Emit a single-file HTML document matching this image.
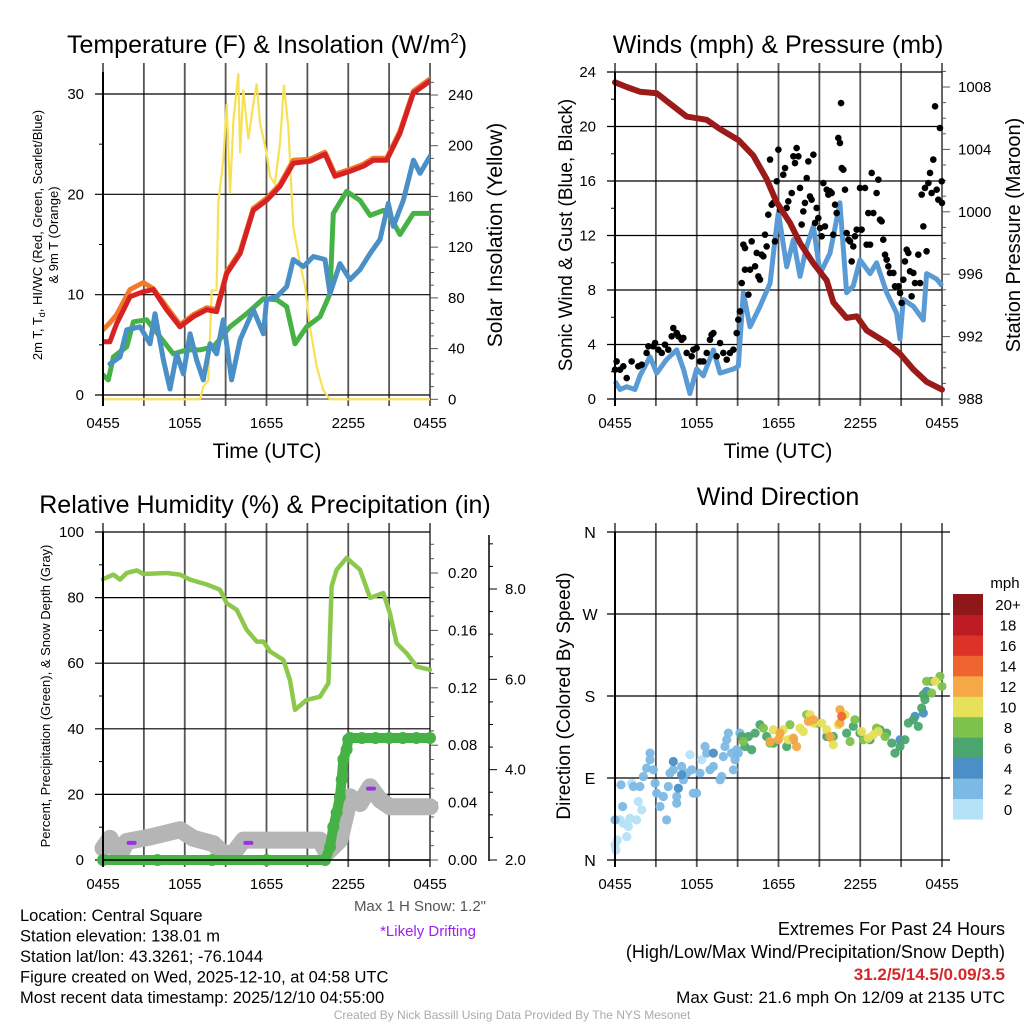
<!DOCTYPE html>
<html><head><meta charset="utf-8">
<style>
body{margin:0;background:#fff;}
svg{display:block;font-family:"Liberation Sans",sans-serif;}
</style></head>
<body>
<svg id="s" width="1024" height="1024" viewBox="0 0 1024 1024"></svg>
<script>
// ---------- DATA ----------
const xTickLabels=["0455","1055","1655","2255","0455"];
// Temperature panel
const tRedTimes=[0,0.51,1.0,1.98,2.96,3.69,4.67,5.65,6.63,7.61,8.34,9.08,10.06,11.03,12.01,12.99,13.97,15.19,16.29,17.03,18.13,19.11,19.84,20.82,21.8,22.78,24];
const tRedVals=[5.3,5.3,7.1,9.8,10.3,10.5,8.5,6.8,7.8,8.5,8.3,12.1,14.1,18.4,19.4,20.8,23.1,23.3,24,21.8,22.3,22.8,23.4,23.4,26.1,30.1,31.3];
const tOrangeVals=[6.5,7.2,8.0,10.5,11.2,10.6,8.8,7.0,8.0,8.7,8.5,12.3,14.3,18.6,19.6,21,23.4,23.5,24.2,22,22.5,23,23.6,23.6,26.3,30.3,31.5];
const tGreenTimes=[0,0.39,0.76,1.74,2.23,3.2,4.18,5.16,6.14,7.12,8.1,9.32,10.54,11.77,12.75,13.48,14.09,14.95,15.93,16.66,16.9,17.88,18.86,19.6,20.57,21.06,21.8,22.78,24];
const tGreenVals=[2,1.5,3.8,4.8,7.3,7.5,5.8,4.1,4.5,4.5,4.8,6.8,8.1,9.6,9.5,8.8,5.1,6.8,7.8,10.1,18.1,20.3,19.4,17.9,18.4,17.8,16,18.1,18.1];
const tBlueTimes=[0.51,1.25,1.74,2.72,3.45,3.82,4.43,4.92,5.41,5.9,6.39,6.87,7.36,7.85,8.34,8.83,9.44,10.06,11.03,11.77,12.01,12.75,13.48,13.97,14.7,15.44,16.29,16.66,17.39,18.13,18.86,19.6,20.33,20.94,21.31,22.04,22.78,23.27,24];
const tBlueVals=[3.1,3.8,6.5,6.8,5.1,8.1,3.5,0.6,4.1,2.1,6.1,3.5,1.5,5.1,4.1,7.5,1.5,5.5,8.5,6.1,9.5,9.8,10.8,13.5,12.8,13.8,13.5,10.1,13.1,11.5,12.5,14.1,15.5,19.1,16.8,19.4,23.4,22.1,23.8];
const solTimes=[0,7.12,7.36,7.73,7.98,8.34,8.46,8.83,9.08,9.32,9.57,9.93,10.06,10.3,10.67,11.03,11.28,11.52,12.01,12.26,12.62,12.99,13.28,13.6,13.97,14.46,14.83,15.19,15.68,16.17,16.66,24];
const solVals=[0,0,10,15,86,86,155,189,233,162,220,257,194,244,205,233,249,218,194,176,170,202,248,215,136,107,89,57,26,7,0,0];
// Wind panel
const windTimes=[0,0.37,0.86,1.47,1.83,2.57,3.06,3.79,4.53,5.02,5.5,5.99,6.48,7.22,7.71,8.69,9.05,9.42,9.91,10.64,11.38,11.74,11.99,12.6,13.09,13.58,14.07,14.56,15.05,15.78,16.51,17.0,17.49,17.98,18.72,19.2,19.94,20.67,20.92,21.16,21.9,22.63,22.87,23.61,24];
const windVals=[1.3,0.7,0.9,0.7,1.7,3.1,1.9,2.9,3.6,2.2,0.4,2.2,1.7,3.6,1.9,2.2,2.4,7.8,5.3,6.8,8.5,11.7,13.7,9.7,11.7,9.0,11.2,12.7,9.2,10.7,14.4,7.8,8.3,10.2,9.2,10,7.8,6.3,4.4,7.3,6.8,5.8,9.2,8.8,8.3];
const gustTimes=[0,0.12,0.37,0.61,0.86,1.22,1.71,1.96,2.32,2.45,2.81,2.94,3.18,3.43,3.67,3.91,4.16,4.28,4.53,4.65,4.89,5.02,5.26,5.63,5.75,5.99,6.24,6.48,6.73,6.97,7.09,7.22,7.46,7.71,7.95,8.2,8.44,8.69,8.93,9.05,9.17,9.3,9.42,9.54,9.54,9.79,9.91,10.03,10.28,10.4,10.52,10.64,10.76,10.89,11.01,11.13,11.25,11.38,11.5,11.62,11.74,11.87,11.99,12.11,12.35,12.48,12.6,12.72,12.97,13.09,13.21,13.33,13.46,13.58,13.7,13.82,13.94,14.07,14.19,14.31,14.43,14.56,14.68,14.8,14.92,15.05,15.17,15.29,15.41,15.54,15.66,15.78,15.9,16.02,16.15,16.27,16.39,16.51,16.59,16.64,16.76,16.88,17.0,17.13,17.25,17.37,17.49,17.61,17.74,17.98,18.1,18.35,18.47,18.59,18.72,18.84,18.96,19.2,19.33,19.45,19.57,19.69,19.82,19.94,20.06,20.18,20.43,20.55,20.8,20.92,21.04,21.16,21.28,21.41,21.53,21.65,21.77,21.9,22.02,22.26,22.39,22.51,22.63,22.75,22.87,23.0,23.12,23.24,23.36,23.49,23.61,23.73,23.85,23.98,24.0];
const gustVals=[2.15,2.76,2.15,2.4,1.54,2.76,2.4,2.52,3.38,3.87,3.87,4.11,3.62,3.38,3.99,3.62,4.6,5.21,4.84,4.6,4.35,4.48,3.38,3.13,3.62,3.74,2.76,2.76,3.38,4.35,4.72,4.84,3.13,4.11,3.38,2.89,3.38,3.62,4.84,5.82,6.43,8.51,11.33,11.08,9.49,7.66,9.49,11.57,9.74,10.72,9.0,8.76,10.59,10.47,12.06,11.2,13.53,17.57,14.26,14.39,11.57,15.98,18.3,13.9,16.46,16.95,14.02,14.51,15.12,17.81,17.32,18.42,17.81,15.49,12.8,13.77,14.39,16.22,17.44,14.87,14.63,17.93,12.92,14.02,13.28,12.55,11.94,15.85,12.67,15.36,15.0,15.24,15.12,12.06,14.26,13.65,19.16,18.79,21.72,16.95,16.83,15.36,12.18,11.69,11.57,10.1,11.2,11.94,12.43,15.49,12.43,15.49,11.33,13.65,11.33,16.59,13.65,15.12,16.1,13.16,13.04,11.69,10.59,10.23,9.74,9.25,9.25,8.27,8.27,7.78,7.05,8.76,10.1,10.96,10.72,9.37,7.54,9.25,8.51,10.59,8.51,15.0,12.67,15.49,10.84,15.85,16.59,15.12,17.57,21.48,15.36,14.63,19.89,15.98,14.39];
const presTimes=[0,0.86,1.83,3.06,3.79,5.26,6.73,7.71,9.05,10.15,11.13,11.87,12.84,13.58,14.56,15.54,16.02,17.0,17.74,18.47,19.94,20.92,21.9,22.87,24];
const presVals=[1008.3,1008,1007.7,1007.6,1007.1,1006.1,1005.9,1005.3,1004.6,1003.6,1002.1,1000.6,999.3,998,996.7,995.6,994.2,993.2,993.3,992.4,991.6,990.9,989.9,989.1,988.6];
// RH panel
const rhTimes=[0,0.76,1.25,1.74,2.47,2.96,4.67,5.65,6.39,7.61,8.59,9.08,9.81,10.54,11.28,11.77,12.26,13.24,13.72,14.09,14.95,15.93,16.54,16.78,17.15,17.88,18.86,19.6,20.57,21.06,21.55,22.29,23.02,24];
const rhVals=[85.6,87,85.5,87.5,88.3,87.2,87.5,87,85.5,84,82.4,78.3,76.3,70.2,66.6,66.6,63.6,61,54.9,45.8,48.8,49.8,53.9,83.4,88.5,92.1,88.5,79.9,81.4,75.3,66.1,63,59,58];
const precipTimes=[0,4,8,12,16.3,16.66,16.9,17.15,17.39,17.52,17.64,17.88,18.0,18.13,19,20,21,22,23,24];
const precipVals=[0,0,0,0,0,0.009,0.023,0.033,0.044,0.056,0.07,0.077,0.084,0.085,0.085,0.085,0.085,0.085,0.085,0.085];
const snowTimes=[0,0.51,1.25,1.74,3.45,5.65,6.63,8.1,8.83,9.57,10.3,12.01,15.93,16.42,17.39,18.13,18.86,19.6,20.33,21.06,24];
const snowVals=[2.26,2.48,2.11,2.41,2.51,2.67,2.48,2.36,2.15,2.15,2.44,2.44,2.44,2.15,2.44,3.4,3.25,3.62,3.33,3.18,3.18];
const driftTimes=[2.1,10.67,19.67];
const driftVals=[2.38,2.38,3.58];
// Direction panel
const dirTimes=[0,0.17,0.37,0.61,0.86,0.98,1.22,1.59,1.71,1.96,6.36,5.5,0.07,1.1,
0.44,0,0.56,1.35,1.83,2.08,2.32,2.57,2.57,2.81,2.94,3.06,3.3,3.55,3.79,3.91,4.04,4.28,4.53,4.53,4.89,5.02,5.26,5.63,5.75,5.99,6.24,6.61,6.73,6.97,7.22,7.71,7.83,7.95,8.07,8.2,8.32,8.56,8.69,8.81,8.93,9.05,9.17,
4.28,4.65,4.89,7.22,20.92,22.02,22.63,22.87,
9.3,9.54,9.79,10.03,10.28,10.64,11.13,11.62,12.6,15.54,16.02,17.0,17.49,17.98,18.72,19.45,19.94,20.31,20.55,20.92,21.28,21.53,21.9,22.26,22.51,22.63,22.75,23.24,
9.42,10.89,11.38,12.84,13.09,14.07,14.8,15.9,17.25,17.61,18.23,19.2,19.82,22.87,23.24,23.85,24,
11.62,12.11,12.35,12.72,13.58,13.82,14.31,14.56,15.17,15.54,16.02,16.39,16.88,18.1,18.59,18.96,19.33,23.49,
11.38,11.99,12.11,13.09,13.33,14.19,14.56,15.78,16.51,16.51,16.64];
const dirVals=[16.5,22,44,40.3,25.7,36.7,84.3,44,64.2,55,110,115.5,11,45.8,
82.5,44,58.7,80.7,80.7,91.7,100.8,117.3,110,99,84.3,73.3,58.7,69.7,44,80.7,95.3,99,69.7,62.3,102.6,88,95.3,99,73.3,73.3,95.3,124.6,117.3,99,102.6,88,91.7,113.6,124.6,132,139.3,117.3,99,110,121,117.3,139.3,
108.1,78.8,93.5,117.3,132,157.6,161.3,185.1,
135.6,124.6,135.6,121,139.3,148.5,135.6,128.3,124.6,135.6,135.6,139.3,146.6,139.3,132,143,139.3,128.3,117.3,124.6,132,150.3,154,146.6,166.8,181.5,176,196.1,
130.1,144.8,128.3,148.5,132,159.5,150.3,133.8,130.1,154,132,144.8,135.6,196.1,183.3,201.6,190.6,
143,135.6,143,132,144.8,141.1,159.5,150.3,150.3,143,126.5,148.5,159.5,141.1,133.8,137.5,141.1,196.1,
130.1,132,139.3,133.8,124.6,152.1,154,135.6,165,150.3,157.6];
const dirSpeeds=[1,1,1,1,1,1,1,1,1,1,1,1,1,1,
3,3,3,3,3,3,3,3,3,3,3,3,3,3,3,3,3,3,3,3,3,3,3,3,3,3,3,3,3,3,3,3,3,3,3,3,3,3,3,3,3,3,3,
5,5,5,5,5,5,5,5,
7,7,7,7,7,7,7,7,7,7,7,7,7,7,7,7,7,7,7,7,7,7,7,7,7,7,7,7,
9,9,9,9,9,9,9,9,9,9,9,9,9,9,9,9,9,
11,11,11,11,11,11,11,11,11,11,11,11,11,11,11,11,11,11,
13,13,13,13,13,13,13,13,13,13,15];
const cbLabels=["0","2","4","6","8","10","12","14","16","18","20+"];
const cbColors=["#b5e2f6","#7cb9e4","#4a8fc6","#4aa66e","#7dc24a","#e6e05a","#f5a845","#ef6530","#dd3228","#bd1c24","#8f1619"];

// ---------- HELPERS ----------
const NS="http://www.w3.org/2000/svg";
const svg=document.getElementById('s');
function el(tag,attrs,parent,text){const e=document.createElementNS(NS,tag);for(const k in attrs)e.setAttribute(k,attrs[k]);if(text!==undefined)e.textContent=text;(parent||svg).appendChild(e);return e;}
function lin(d0,d1,r0,r1){return v=>r0+(v-d0)/(d1-d0)*(r1-r0);}
function pathFrom(ts,vs,xf,yf){return ts.map((t,i)=>(i?'L':'M')+xf(t).toFixed(1)+','+yf(vs[i]).toFixed(1)).join(' ');}
function txt(x,y,s,size,anchor,parent,extra){const a=Object.assign({x:x,y:y,'font-size':size,'text-anchor':anchor||'middle',fill:'#000'},extra||{});return el('text',a,parent,s);}

function frame(g,x0,x1,y0,y1){
  for(let i=0;i<=8;i++){const x=x0+(x1-x0)*i/8;
    const ln=el('line',{x1:x,x2:x,y1:y0-9,y2:y1+7,stroke:'#555','stroke-width':1.8},g);
    
    }
  for(let i=0;i<5;i++){const x=x0+(x1-x0)*i/4;
    const t=txt(x,y1+29,xTickLabels[i],15,'middle',g);
    
    }
}
function hgrid(g,x0,x1,y){el('line',{x1:x0-8,x2:x1,y1:y,y2:y,stroke:'#000','stroke-width':1.2},g);}

// ================= PANEL 1: Temperature =================
(function(){
const g=el('g',{});
const X0=103,X1=430,Y0=72,Y1=399;
const x=lin(0,24,X0,X1), y=lin(0,30,395,94), ys=lin(0,240,399.3,95);
frame(g,X0,X1,Y0,Y1);
[0,10,20,30].forEach(v=>{hgrid(g,X0,X1,y(v));txt(84,y(v)+5,String(v),15,'end',g);});
[5,15,25].forEach(v=>el('line',{x1:X0-4,x2:X0,y1:y(v),y2:y(v),stroke:'#000'},g));
for(let v=0;v<=250;v+=10){const maj=v%40===0;el('line',{x1:X1,x2:X1+(maj?8:4),y1:ys(v),y2:ys(v),stroke:'#555'},g);if(maj)txt(448,ys(v)+5,String(v),15,'start',g);}
el('line',{x1:X0,x2:X1,y1:Y1,y2:Y1,stroke:'#555','stroke-width':1.2},g);
const clip=el('clipPath',{id:'c1'},g);el('rect',{x:X0,y:Y0,width:X1-X0,height:Y1-Y0+4},clip);
const pg=el('g',{'clip-path':'url(#c1)'},g);
el('path',{d:pathFrom(solTimes,solVals,x,ys),fill:'none',stroke:'#f9e154','stroke-width':2.2,},pg);
el('path',{d:pathFrom(tGreenTimes,tGreenVals,x,y),fill:'none',stroke:'#46b245','stroke-width':5,'stroke-linejoin':'round','stroke-linecap':'round',},pg);
el('path',{d:pathFrom(tBlueTimes,tBlueVals,x,y),fill:'none',stroke:'#4a8fc6','stroke-width':5,'stroke-linejoin':'round','stroke-linecap':'round',},pg);
el('path',{d:pathFrom(tRedTimes,tOrangeVals,x,y),fill:'none',stroke:'#f07a2a','stroke-width':5,'stroke-linejoin':'round','stroke-linecap':'round',},pg);
el('path',{d:pathFrom(tRedTimes,tRedVals,x,y),fill:'none',stroke:'#d62222','stroke-width':5,'stroke-linejoin':'round','stroke-linecap':'round',},pg);
el('line',{x1:X0,x2:X0,y1:Y0,y2:Y1+7,stroke:'#000','stroke-width':2},g);
const tt=txt(267,53,'',25,'middle',g,{});
tt.innerHTML='Temperature (F) &amp; Insolation (W/m<tspan dy="-10" font-size="15">2</tspan><tspan dy="10">)</tspan>';
txt(267,458,'Time (UTC)',21,'middle',g,{});
const la=txt(0,0,'',13,'middle',g,{transform:'translate(42,235) rotate(-90)',});
la.innerHTML='2m T, T<tspan dy="3" font-size="9">d</tspan><tspan dy="-3">, HI/WC (Red, Green, Scarlet/Blue)</tspan>';
txt(0,0,'& 9m T (Orange)',13,'middle',g,{transform:'translate(58,235) rotate(-90)',});
txt(0,0,'Solar Insolation (Yellow)',21,'middle',g,{transform:'translate(502,235) rotate(-90)',});
})();

// ================= PANEL 2: Winds =================
(function(){
const g=el('g',{});
const X0=615,X1=942,Y0=72,Y1=399;
const x=lin(0,24,X0,X1), y=lin(0,24,399,72), yp=lin(988,1008,399,87);
frame(g,X0,X1,Y0,Y1);
[0,4,8,12,16,20,24].forEach(v=>{hgrid(g,X0,X1,y(v));txt(596,y(v)+5,String(v),15,'end',g);});
[2,6,10,14,18,22].forEach(v=>el('line',{x1:X0-4,x2:X0,y1:y(v),y2:y(v),stroke:'#000'},g));
for(let v=988;v<=1009;v++){const maj=v%4===0;el('line',{x1:X1,x2:X1+(maj?8:4),y1:yp(v),y2:yp(v),stroke:'#555'},g);if(maj)txt(958,yp(v)+5,String(v),15,'start',g);}
el('path',{d:pathFrom(windTimes,windVals,x,y),fill:'none',stroke:'#5a9bd5','stroke-width':5,'stroke-linejoin':'round',},g);
gustTimes.forEach((t,i)=>{const c=el('circle',{cx:x(t),cy:y(gustVals[i]),r:3.3,fill:'#000'},g);
  
  });
el('path',{d:pathFrom(presTimes,presVals,x,yp),fill:'none',stroke:'#9b1b1b','stroke-width':6,'stroke-linejoin':'round','stroke-linecap':'round',},g);
el('line',{x1:X0,x2:X0,y1:Y0,y2:Y1+7,stroke:'#000','stroke-width':2},g);
txt(778,53,'Winds (mph) & Pressure (mb)',25,'middle',g,{});
txt(778,458,'Time (UTC)',21,'middle',g,{});
txt(0,0,'Sonic Wind & Gust (Blue, Black)',19,'middle',g,{transform:'translate(572,235) rotate(-90)',});
txt(0,0,'Station Pressure (Maroon)',20,'middle',g,{transform:'translate(1020,235) rotate(-90)',});
})();

// ================= PANEL 3: RH =================
(function(){
const g=el('g',{});
const X0=103,X1=430,Y0=532,Y1=860;
const x=lin(0,24,X0,X1), y=lin(0,100,860,532), yp=lin(0,0.2,860,573), ysn=lin(2,8,860,589);
frame(g,X0,X1,Y0,Y1);
[0,20,40,60,80,100].forEach(v=>{hgrid(g,X0,X1,y(v));txt(84,y(v)+5,String(v),15,'end',g);});
[10,30,50,70,90].forEach(v=>el('line',{x1:X0-4,x2:X0,y1:y(v),y2:y(v),stroke:'#000'},g));
for(let i=0;i<=22;i++){const v=i*0.01;const maj=i%4===0;el('line',{x1:X1,x2:X1+(maj?8:4),y1:yp(v),y2:yp(v),stroke:'#555'},g);if(maj)txt(448,yp(v)+5,v.toFixed(2),15,'start',g);}
el('line',{x1:489,x2:489,y1:535,y2:861,stroke:'#000','stroke-width':1.5},g);
for(let i=0;i<=14;i++){const v=2+i*0.5;const maj=i%4===0;el('line',{x1:489,x2:489+(maj?8:4),y1:ysn(v),y2:ysn(v),stroke:'#000'},g);if(maj)txt(505,ysn(v)+5,v.toFixed(1),15,'start',g);}
const clip=el('clipPath',{id:'c3'},g);el('rect',{x:X0-15,y:Y0,width:X1-X0+30,height:Y1-Y0+15},clip);
const pg=el('g',{'clip-path':'url(#c3)'},g);
el('path',{d:pathFrom(snowTimes,snowVals,x,ysn),fill:'none',stroke:'#b5b5b5','stroke-width':17,'stroke-linejoin':'round','stroke-linecap':'round',},pg);
driftTimes.forEach((t,i)=>{const d=el('line',{x1:x(t)-3,x2:x(t)+3,y1:ysn(driftVals[i]),y2:ysn(driftVals[i]),stroke:'#9b30e8','stroke-width':4,'stroke-linecap':'round'},pg);
  
  });
el('path',{d:pathFrom(precipTimes,precipVals,x,yp),fill:'none',stroke:'#46b245','stroke-width':10,'stroke-linejoin':'round','stroke-linecap':'round',},pg);
precipTimes.forEach((t,i)=>{const c=el('circle',{cx:x(t),cy:yp(precipVals[i]),r:6,fill:'#46b245'},pg);
  
  });
el('path',{d:pathFrom(rhTimes,rhVals,x,y),fill:'none',stroke:'#8cc84b','stroke-width':4.5,'stroke-linejoin':'round','stroke-linecap':'round',},pg);
el('line',{x1:X0,x2:X0,y1:Y0,y2:Y1+7,stroke:'#000','stroke-width':2},g);
el('line',{x1:X0,x2:X1,y1:Y1,y2:Y1,stroke:'#000','stroke-width':1.5},g);
txt(265,513,'Relative Humidity (%) & Precipitation (in)',25,'middle',g,{});
txt(0,0,'Percent, Precipitation (Green), & Snow Depth (Gray)',13,'middle',g,{transform:'translate(50,696) rotate(-90)',});
txt(486,911,'Max 1 H Snow: 1.2"',15,'end',g,{fill:'#555',});
txt(428,936,'*Likely Drifting',15,'middle',g,{fill:'#a020f0',});
})();

// ================= PANEL 4: Direction =================
(function(){
const g=el('g',{});
const X0=615,X1=942,Y0=532,Y1=860;
const x=lin(0,24,X0,X1), y=lin(0,360,860,532);
frame(g,X0,X1,Y0,Y1);
['N','E','S','W','N'].forEach((s,i)=>{const v=i*90;el('line',{x1:X0-8,x2:X1+8,y1:y(v),y2:y(v),stroke:'#000','stroke-width':1.2},g);txt(590,y(v)+6,s,16,'middle',g);});
dirTimes.forEach((t,i)=>{const c=el('circle',{cx:x(t),cy:y(dirVals[i]),r:4.6,fill:cbColors[Math.min(10,Math.floor(dirSpeeds[i]/2))],'fill-opacity':0.95},g);
  
  });
el('line',{x1:X0,x2:X0,y1:Y0,y2:Y1+7,stroke:'#000','stroke-width':2},g);
txt(778,505,'Wind Direction',25,'middle',g,{});
txt(0,0,'Direction (Colored By Speed)',19,'middle',g,{transform:'translate(570,696) rotate(-90)',});
const lg=el('g',{},g);
txt(1005,588,'mph',15,'middle',lg);
const h=225/11;
cbColors.forEach((c,i)=>{const yy=819-(i+1)*h;
  const r=el('rect',{x:953,y:yy,width:30,height:h+0.5,fill:c},lg);
  
  
  txt(1008,yy+h/2+6,cbLabels[i],15,'middle',lg);});
})();

// ================= FOOTER TEXT =================
const info=["Location: Central Square","Station elevation: 138.01 m","Station lat/lon: 43.3261; -76.1044","Figure created on Wed, 2025-12-10, at 04:58 UTC","Most recent data timestamp: 2025/12/10 04:55:00"];
const ig=el('g',{});
info.forEach((s,i)=>txt(20,921+i*20.5,s,16.5,'start',ig));
const eg=el('g',{});
txt(1005,935,'Extremes For Past 24 Hours',18,'end',eg);
txt(1005,958,'(High/Low/Max Wind/Precipitation/Snow Depth)',18,'end',eg);
txt(1005,980,'31.2/5/14.5/0.09/3.5',17,'end',eg,{fill:'#d62728','font-weight':'bold'});
txt(1005,1003,'Max Gust: 21.6 mph On 12/09 at 2135 UTC',17,'end',eg);
txt(512,1019,'Created By Nick Bassill Using Data Provided By The NYS Mesonet',12,'middle',null,{fill:'#aaa',});
</script>
</body></html>
